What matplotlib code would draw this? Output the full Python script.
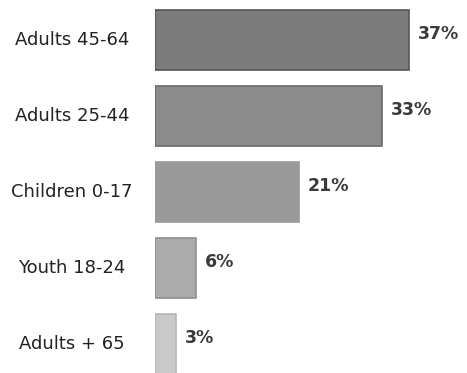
import numpy as np
import matplotlib
matplotlib.use("Agg")
import matplotlib.pyplot as plt

categories = ["Adults 45-64", "Adults 25-44", "Children 0-17", "Youth 18-24", "Adults + 65"]
shares = [37, 33, 21, 6, 3]
bar_colors = ["#7b7b7b", "#8c8c8c", "#999999", "#ababab", "#c9c9c9"]
edge_colors = ["#555555", "#6a6a6a", "#999999", "#8f8f8f", "#b5b5b5"]


def main():
    fig = plt.figure(figsize=(4.67, 3.73), dpi=100)
    ax = fig.add_axes([155 / 467, 0, 1 - 155 / 467, 1])

    y = np.arange(len(categories))
    ax.barh(y, shares, height=0.8, color=bar_colors, edgecolor=edge_colors, linewidth=1.2)

    px_per_unit = (409 - 155) / 37
    ax.set_xlim(0, (467 - 155) / px_per_unit)
    ax.set_ylim((373 - 40) / 76, -40 / 76)

    for yi, v in zip(y, shares):
        ax.text(v + 1.3, yi - 0.08, f"{v}%", va="center", ha="left",
                fontsize=12.5, fontweight="bold", color="#3a3a3a", family="DejaVu Sans")

    for yi, name in zip(y, categories):
        ax.text(-83 / 312, yi, name, transform=ax.get_yaxis_transform(),
                va="center", ha="center", fontsize=13, color="#222222", family="DejaVu Sans")

    ax.axis("off")
    fig.savefig("out.png", dpi=100)


if __name__ == '__main__':
    main()
